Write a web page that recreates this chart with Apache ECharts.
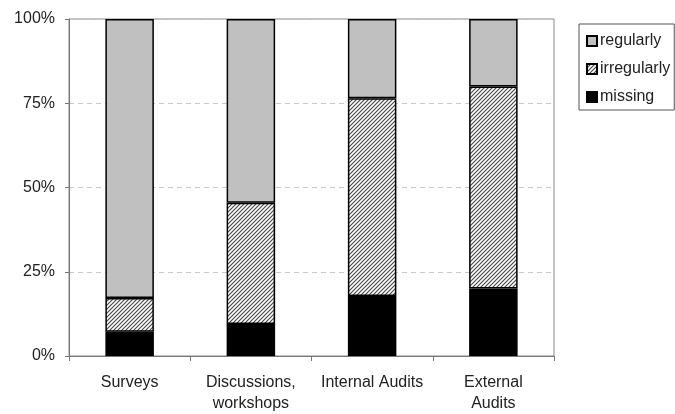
<!DOCTYPE html>
<html>
<head>
<meta charset="utf-8">
<script src="https://cdn.jsdelivr.net/npm/echarts@6/dist/echarts.min.js"></script>
<style>
  html, body { margin: 0; padding: 0; background: #fff; }
  #chart { width: 675px; height: 414px; }
</style>
</head>
<body>
<div id="chart"></div>
<script>
// Evaluation methods and how regularly each one is carried out (share of cases, %)
const categories = ['Surveys', 'Discussions,\nworkshops', 'Internal Audits', 'External\nAudits'];
const missing = [7.2, 9.5, 17.8, 20];
const irregularly = [10, 36, 58.7, 60];
const regularly = [82.8, 54.5, 23.5, 20];
const yTicks = [0, 25, 50, 75, 100];

// Diagonal hatch fill for the "irregularly" segments
function hatchPattern() {
  const c = document.createElement('canvas');
  c.width = 4; c.height = 4;
  const g = c.getContext('2d');
  g.fillStyle = '#ffffff';
  g.fillRect(0, 0, 4, 4);
  g.strokeStyle = '#444444';
  g.lineWidth = 1.1;
  g.beginPath();
  g.moveTo(0, 4); g.lineTo(4, 0);
  g.moveTo(-1, 1); g.lineTo(1, -1);
  g.moveTo(3, 5); g.lineTo(5, 3);
  g.stroke();
  return c;
}

const font = "'Liberation Sans', Arial, sans-serif";
const chart = echarts.init(document.getElementById('chart'), null, { renderer: 'canvas' });

const segStyle = (color) => ({ color: color, borderColor: '#000', borderWidth: 1.5 });

chart.setOption({
  animation: false,
  backgroundColor: '#fff',
  textStyle: { fontFamily: font },
  grid: {
    left: 69, right: 121, top: 19, bottom: 58,
    outerBoundsMode: 'none',
    show: true, borderColor: '#888', borderWidth: 1, backgroundColor: 'transparent'
  },
  legend: {
    data: ['regularly', 'irregularly', 'missing'],
    orient: 'vertical',
    left: 579, top: 24,
    padding: [8, 4, 4, 7],
    itemGap: 10,
    itemWidth: 10, itemHeight: 10,
    icon: 'rect',
    borderColor: '#555', borderWidth: 1,
    textStyle: { fontSize: 16, color: '#222', fontFamily: font, lineHeight: 18, padding: [0, 0, 0, -2] }
  },
  xAxis: {
    type: 'category',
    data: categories,
    boundaryGap: true,
    axisLine: { lineStyle: { color: '#777', width: 1 } },
    axisTick: { show: true, length: 5, lineStyle: { color: '#777' } },
    axisLabel: { fontSize: 16, color: '#222', lineHeight: 21, margin: 16, fontFamily: font, interval: 0 }
  },
  yAxis: {
    type: 'value',
    min: yTicks[0], max: yTicks[yTicks.length - 1], interval: 25,
    axisLine: { show: true, lineStyle: { color: '#777', width: 1 } },
    axisTick: { show: true, length: 4, lineStyle: { color: '#777' } },
    axisLabel: { formatter: '{value}%', fontSize: 16, color: '#222', margin: 14, fontFamily: font },
    splitLine: { show: true, lineStyle: { color: '#c8c8c8', type: [5, 4], width: 1 } }
  },
  series: [
    { name: 'missing', type: 'bar', stack: 'all', barWidth: '40%', data: missing, itemStyle: segStyle('#000') },
    { name: 'irregularly', type: 'bar', stack: 'all', barWidth: '40%', data: irregularly,
      itemStyle: segStyle({ image: hatchPattern(), repeat: 'repeat' }) },
    { name: 'regularly', type: 'bar', stack: 'all', barWidth: '40%', data: regularly, itemStyle: segStyle('#c0c0c0') }
  ]
});
</script>
</body>
</html>
